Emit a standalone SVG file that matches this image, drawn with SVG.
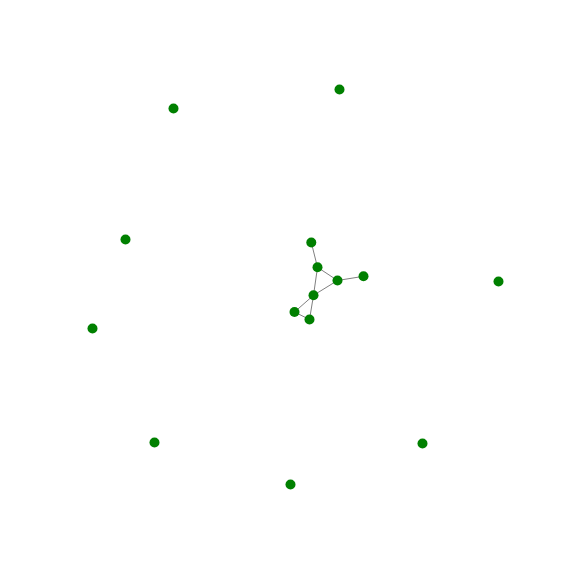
<svg xmlns="http://www.w3.org/2000/svg" width="576" height="576" viewBox="0 0 576 576">
<style>
.e{stroke:#808080;stroke-width:1;fill:none}
.n{fill:#008000}
</style>
<rect width="576" height="576" fill="#fff"/>
<g id="edges">
<line class="e" x1="311.3" y1="242.5" x2="317.5" y2="267.3"/>
<line class="e" x1="317.5" y1="267.3" x2="337.5" y2="280.5"/>
<line class="e" x1="317.5" y1="267.3" x2="313.5" y2="295.3"/>
<line class="e" x1="337.5" y1="280.5" x2="363.5" y2="276.3"/>
<line class="e" x1="337.5" y1="280.5" x2="313.5" y2="295.3"/>
<line class="e" x1="313.5" y1="295.3" x2="294.5" y2="312"/>
<line class="e" x1="313.5" y1="295.3" x2="309.5" y2="319.5"/>
<line class="e" x1="294.5" y1="312" x2="309.5" y2="319.5"/>
</g>
<g id="n1"><circle class="n" cx="311.3" cy="242.5" r="5"/></g>
<g id="n2"><circle class="n" cx="317.5" cy="267.3" r="5"/></g>
<g id="n3"><circle class="n" cx="337.5" cy="280.5" r="5"/></g>
<g id="n4"><circle class="n" cx="363.5" cy="276.3" r="5"/></g>
<g id="n5"><circle class="n" cx="313.5" cy="295.3" r="5"/></g>
<g id="n6"><circle class="n" cx="294.5" cy="312" r="5"/></g>
<g id="n7"><circle class="n" cx="309.5" cy="319.5" r="5"/></g>
<g id="n8"><circle class="n" cx="339.5" cy="89.5" r="5"/></g>
<g id="n9"><circle class="n" cx="173.5" cy="108.5" r="5"/></g>
<g id="n10"><circle class="n" cx="125.5" cy="239.5" r="5"/></g>
<g id="n11"><circle class="n" cx="92.5" cy="328.5" r="5"/></g>
<g id="n12"><circle class="n" cx="154.5" cy="442.5" r="5"/></g>
<g id="n13"><circle class="n" cx="290.5" cy="484.5" r="5"/></g>
<g id="n14"><circle class="n" cx="422.5" cy="443.5" r="5"/></g>
<g id="n15"><circle class="n" cx="498.5" cy="281.5" r="5"/></g>
</svg>
